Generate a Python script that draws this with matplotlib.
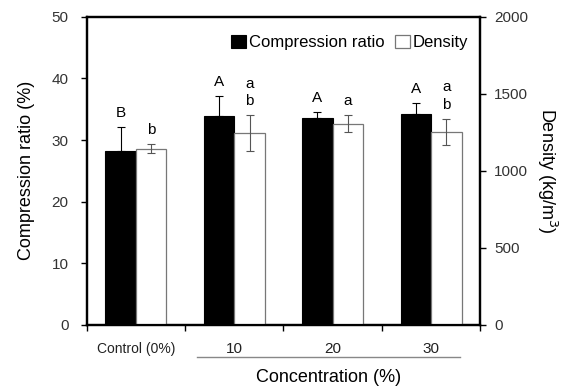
import numpy as np
import matplotlib
matplotlib.use("Agg")
import matplotlib.pyplot as plt

plt.rcParams["font.family"] = ["Liberation Sans", "DejaVu Sans"]

categories = ["Control (0%)", "10", "20", "30"]
ratio = [28.2, 33.9, 33.5, 34.2]
ratio_err = [3.9, 3.3, 1.0, 1.8]
density = [1145, 1245, 1307, 1251]
density_err = [32, 115, 53, 85]
ratio_letters = ["B", "A", "A", "A"]
density_letters = ["b", "a\nb", "a", "a\nb"]

fig = plt.figure(figsize=(5.67, 3.91), dpi=100)
ax = fig.add_axes([0.153, 0.169, 0.694, 0.788])
ax2 = ax.twinx()

x = np.arange(len(categories))
w = 0.31

ax.bar(x - w / 2, ratio, w, color="black", edgecolor="black", linewidth=0.8,
       label="Compression ratio")
ax.errorbar(x - w / 2, ratio, yerr=[np.zeros(len(ratio)), ratio_err], fmt="none",
            ecolor="black", elinewidth=0.8, capsize=3, capthick=0.8)
ax2.bar(x + w / 2, density, w, color="white", edgecolor="#777777", linewidth=0.9,
        label="Density")
ax2.errorbar(x + w / 2, density, yerr=density_err, fmt="none",
             ecolor="#555555", elinewidth=0.8, capsize=3, capthick=0.8)

for xi, v, e, t in zip(x, ratio, ratio_err, ratio_letters):
    ax.annotate(t, (xi - w / 2, v + e), xytext=(0, 5), textcoords="offset points",
                ha="center", va="bottom", fontsize=11)
for xi, v, e, t in zip(x, density, density_err, density_letters):
    ax2.annotate(t, (xi + w / 2, v + e), xytext=(0, 5), textcoords="offset points",
                 ha="center", va="bottom", fontsize=11, linespacing=1.35)

ax.set_xlim(-0.5, 3.5)
ax.set_ylim(0, 50)
ax2.set_ylim(0, 2000)
ax.set_yticks([0, 10, 20, 30, 40, 50])
ax2.set_yticks([0, 500, 1000, 1500, 2000])

ax.set_xticks(np.arange(-0.5, 4, 1))
ax.set_xticklabels([])
ax.set_xticks(x, minor=True)
ax.set_xticklabels(categories, minor=True)
ax.tick_params(axis="x", which="minor", length=0, pad=12, colors="#222222")
ax.tick_params(axis="x", which="major", direction="out", length=4, width=1)
for lab in ax.get_xticklabels(minor=True):
    lab.set_fontsize(11 if lab.get_text() != "Control (0%)" else 10)

ax.tick_params(axis="y", direction="out", length=4, width=1, labelsize=11, pad=9)
ax2.tick_params(axis="y", direction="out", length=4, width=1, labelsize=11, pad=6)
for lab in ax.get_yticklabels() + ax2.get_yticklabels():
    lab.set_color("#333333")

for sp in ax.spines.values():
    sp.set_linewidth(1.6)
for sp in ax2.spines.values():
    sp.set_linewidth(1.6)

ax.set_ylabel("Compression ratio (%)", fontsize=13, labelpad=12)
ax2.set_ylabel("Density (kg/m$^3$)", fontsize=13, rotation=270, labelpad=22)

# line under the treated groups and the shared label
ax.plot([0.625, 3.29], [-0.105, -0.105], transform=ax.get_xaxis_transform(),
        color="#888888", lw=1, clip_on=False)
ax.text(1.96, -0.172, "Concentration (%)", transform=ax.get_xaxis_transform(),
        ha="center", va="center", fontsize=13)

h1, l1 = ax.get_legend_handles_labels()
h2, l2 = ax2.get_legend_handles_labels()
ax.legend(h1 + h2, l1 + l2, loc="upper right", ncol=2, frameon=False,
          fontsize=12, handlelength=0.9, handleheight=0.9, handletextpad=0.2,
          columnspacing=0.6, borderaxespad=0.3, bbox_to_anchor=(1.0, 0.98))

fig.savefig("out.png", dpi=100)
